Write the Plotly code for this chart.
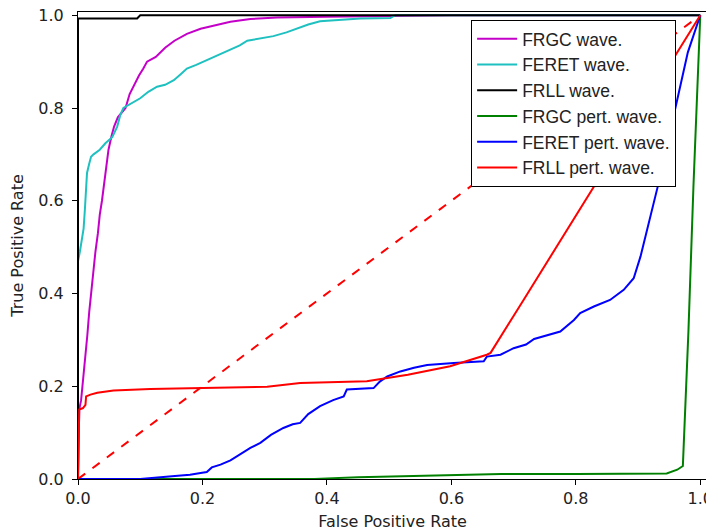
import plotly.graph_objects as go

# ---- data ----
frgc_wave_x = [0, 0.002, 0.005, 0.009, 0.012, 0.015, 0.018, 0.021, 0.025, 0.028, 0.032, 0.035, 0.0385, 0.042,
               0.046, 0.049, 0.054, 0.058, 0.064, 0.070, 0.0764, 0.083, 0.090, 0.098, 0.105, 0.111, 0.125, 0.14,
               0.155, 0.175, 0.197, 0.223, 0.245, 0.277, 0.32, 0.4, 0.5, 0.6, 1.0]
frgc_wave_y = [0, 0.15, 0.17, 0.22, 0.27, 0.31, 0.36, 0.40, 0.45, 0.49, 0.53, 0.57, 0.60, 0.64,
               0.68, 0.71, 0.74, 0.76, 0.78, 0.79, 0.80, 0.83, 0.85, 0.87, 0.885, 0.90, 0.91, 0.93,
               0.945, 0.96, 0.971, 0.98, 0.986, 0.992, 0.995, 0.997, 0.999, 1.0, 1.0]

feret_wave_x = [0, 0, 0.003, 0.006, 0.009, 0.011, 0.012, 0.013, 0.0145, 0.018, 0.021, 0.025, 0.03, 0.035,
                0.044, 0.055, 0.063, 0.068, 0.073, 0.085, 0.1, 0.113, 0.127, 0.14, 0.154, 0.165, 0.175, 0.19,
                0.207, 0.225, 0.245, 0.26, 0.272, 0.295, 0.314, 0.335, 0.352, 0.37, 0.389, 0.42, 0.454, 0.502,
                0.51, 1.0]
feret_wave_y = [0, 0.47, 0.49, 0.52, 0.54, 0.58, 0.60, 0.63, 0.66, 0.68, 0.695, 0.70, 0.705, 0.71,
                0.724, 0.737, 0.76, 0.785, 0.80, 0.81, 0.821, 0.835, 0.846, 0.85, 0.86, 0.873, 0.885, 0.893,
                0.903, 0.913, 0.925, 0.935, 0.945, 0.95, 0.955, 0.963, 0.971, 0.98, 0.987, 0.99, 0.993, 0.994,
                1.0, 1.0]

frll_wave_x = [0, 0, 0.095, 0.1, 1.0]
frll_wave_y = [0, 0.993, 0.993, 1.0, 1.0]

frgc_pert_x = [0, 0.38, 0.45, 0.55, 0.68, 0.8, 0.946, 0.963, 0.972, 0.981, 0.989, 1.0]
frgc_pert_y = [0, 0.0, 0.004, 0.007, 0.011, 0.011, 0.012, 0.02, 0.028, 0.32, 0.63, 1.0]

feret_pert_x = [0, 0.10, 0.151, 0.18, 0.197, 0.207, 0.215, 0.229, 0.245, 0.261, 0.277, 0.293, 0.31, 0.330,
                0.345, 0.357, 0.37, 0.389, 0.41, 0.427, 0.432, 0.475, 0.485, 0.497, 0.518, 0.54, 0.561, 0.604,
                0.652, 0.657, 0.679, 0.70, 0.72, 0.733, 0.755, 0.775, 0.797, 0.807, 0.829, 0.855, 0.877, 0.893,
                0.904, 0.92, 0.933, 0.96, 0.98, 1.0]
feret_pert_y = [0, 0.0, 0.006, 0.009, 0.013, 0.015, 0.025, 0.031, 0.04, 0.053, 0.067, 0.078, 0.095, 0.110,
                0.118, 0.121, 0.14, 0.157, 0.17, 0.178, 0.193, 0.196, 0.21, 0.221, 0.232, 0.24, 0.246, 0.250,
                0.254, 0.264, 0.268, 0.282, 0.29, 0.302, 0.31, 0.318, 0.343, 0.358, 0.372, 0.386, 0.408, 0.433,
                0.48, 0.566, 0.638, 0.8, 0.92, 1.0]

frll_pert_x = [0, 0.002, 0.008, 0.012, 0.013, 0.02, 0.031, 0.057, 0.116, 0.197, 0.277, 0.304, 0.357, 0.464,
               0.53, 0.598, 0.657, 0.663, 0.716, 1.0]
frll_pert_y = [0, 0.15, 0.153, 0.16, 0.178, 0.182, 0.186, 0.191, 0.194, 0.196, 0.198, 0.199, 0.207, 0.211,
               0.225, 0.243, 0.268, 0.272, 0.386, 1.0]

chance_x = [0, 1]
chance_y = [0, 1]

tick_vals = [0.0, 0.2, 0.4, 0.6, 0.8, 1.0]
tick_text = ["0.0", "0.2", "0.4", "0.6", "0.8", "1.0"]

series = [
    ("FRGC wave.", frgc_wave_x, frgc_wave_y, "#c400c8"),
    ("FERET wave.", feret_wave_x, feret_wave_y, "#1fc0c0"),
    ("FRLL wave.", frll_wave_x, frll_wave_y, "#000000"),
    ("FRGC pert. wave.", frgc_pert_x, frgc_pert_y, "#008000"),
    ("FERET pert. wave.", feret_pert_x, feret_pert_y, "#0000ff"),
    ("FRLL pert. wave.", frll_pert_x, frll_pert_y, "#ff0000"),
]

fig = go.Figure()
fig.add_trace(go.Scatter(x=chance_x, y=chance_y, mode="lines", showlegend=False,
                         line=dict(color="#ff0000", width=2, dash="dash")))
for name, xs, ys, col in series:
    fig.add_trace(go.Scatter(x=xs, y=ys, mode="lines", name=name,
                             line=dict(color=col, width=2)))

axis_common = dict(
    showgrid=False, zeroline=False, showline=True, linecolor="black", linewidth=1,
    mirror=True, ticks="outside", ticklen=5, tickcolor="black",
    tickvals=tick_vals, ticktext=tick_text, automargin=False,
    ticklabeloverflow="allow",
    tickfont=dict(family="DejaVu Sans", size=16, color="#222222"),
)

# the page body adds an 8px offset, so the figure is sized to the visible area
fig.update_layout(
    width=706, height=524,
    margin=dict(l=70, r=7, t=4, b=53),
    paper_bgcolor="white", plot_bgcolor="white",
    font=dict(family="DejaVu Sans", size=16, color="#222222"),
    xaxis=dict(range=[0, 1.0108], title=dict(text="False Positive Rate",
               font=dict(size=16), standoff=8), **axis_common),
    yaxis=dict(range=[0, 1.007], ticklabelstandoff=5,
               title=dict(text="True Positive Rate", font=dict(size=16), standoff=12),
               **axis_common),
    legend=dict(x=0.625, y=0.983, xanchor="left", yanchor="top",
                bgcolor="white", bordercolor="black", borderwidth=1,
                font=dict(family="Liberation Sans", size=17.5, color="#222222"),
                itemwidth=40, tracegroupgap=0),
)

fig.write_html("out.html")
